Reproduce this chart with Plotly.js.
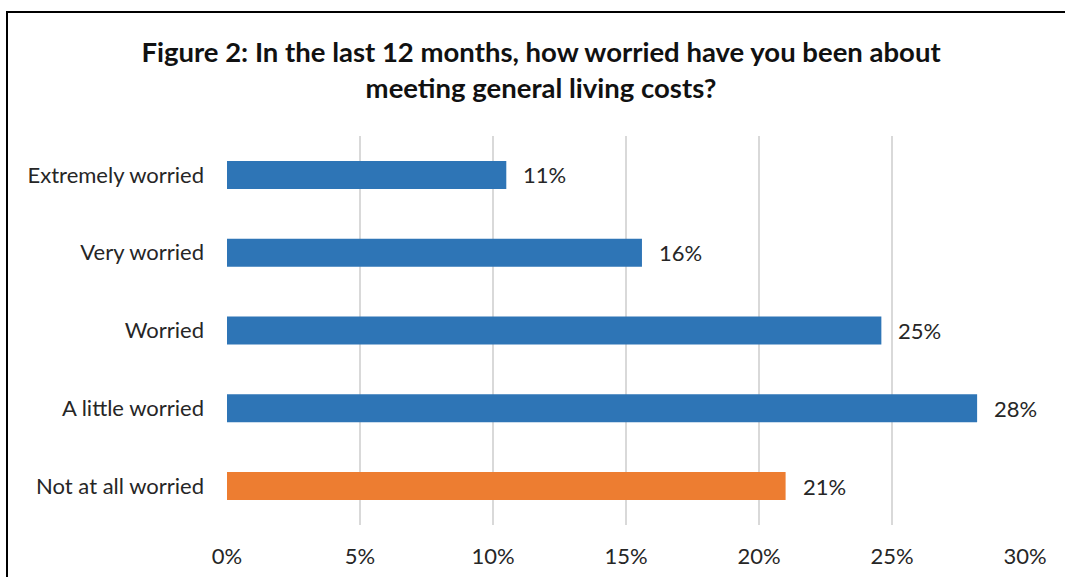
<!DOCTYPE html>
<html>
<head>
<meta charset="utf-8">
<script src="https://cdn.plot.ly/plotly-3.0.1.min.js"></script>
<style>
  html, body { margin: 0; padding: 0; background: #fff; }
  #wrap { position: relative; width: 1065px; height: 577px; overflow: hidden; }
  #chart { position: absolute; left: 0; top: 0; width: 1065px; height: 577px; }
  #frame { position: absolute; left: 6px; top: 11px; width: 1070px; height: 600px;
           border-left: 2px solid #000; border-top: 2px solid #000; pointer-events: none; }
</style>
</head>
<body>
<div id="wrap">
  <div id="chart"></div>
  <div id="frame"></div>
</div>
<script>
const categories = ["Extremely worried", "Very worried", "Worried", "A little worried", "Not at all worried"];
const values = [10.5, 15.6, 24.6, 28.2, 21.0];
const valueLabels = ["11%", "16%", "25%", "28%", "21%"];
const barColors = ["#2E75B6", "#2E75B6", "#2E75B6", "#2E75B6", "#ED7D31"];
const tickVals = [0, 5, 10, 15, 20, 25, 30];
const tickText = ["0%", "5%", "10%", "15%", "20%", "25%", "30%"];

const FONT = "Lato, 'Open Sans', sans-serif";

const trace = {
  type: "bar",
  orientation: "h",
  y: categories,
  x: values,
  marker: { color: barColors },
  hoverinfo: "skip"
};

const annotations = categories.map((c, i) => ({
  x: values[i], y: c, xref: "x", yref: "y",
  text: valueLabels[i], showarrow: false,
  xanchor: "left", xshift: 15,
  font: { family: FONT, size: 22, color: "#262626" }
}));

const layout = {
  width: 1065, height: 577,
  paper_bgcolor: "#fff", plot_bgcolor: "#fff",
  margin: { l: 227, r: 40, t: 136, b: 52 },
  showlegend: false,
  bargap: 0.64,
  title: {
    text: "<b>Figure 2: In the last 12 months, how worried have you been about<br>meeting general living costs?</b>",
    x: 0.508, xanchor: "center",
    y: 0.8925, yanchor: "middle",
    font: { family: FONT, size: 27.5, color: "#111" }
  },
  xaxis: {
    range: [0, 30],
    tickvals: tickVals, ticktext: tickText,
    showgrid: true, gridcolor: "#d9d9d9", gridwidth: 2,
    zeroline: false, showline: false,
    ticks: "", ticklabelstandoff: 16,
    tickfont: { family: FONT, size: 22, color: "#262626" },
    fixedrange: true
  },
  yaxis: {
    categoryorder: "array", categoryarray: categories,
    autorange: "reversed",
    showgrid: false, zeroline: false, showline: false,
    ticks: "", ticklabelstandoff: 22,
    tickfont: { family: FONT, size: 22, color: "#262626" },
    fixedrange: true
  },
  annotations: annotations
};

Plotly.newPlot("chart", [trace], layout, { displayModeBar: false, staticPlot: true });
</script>
</body>
</html>
